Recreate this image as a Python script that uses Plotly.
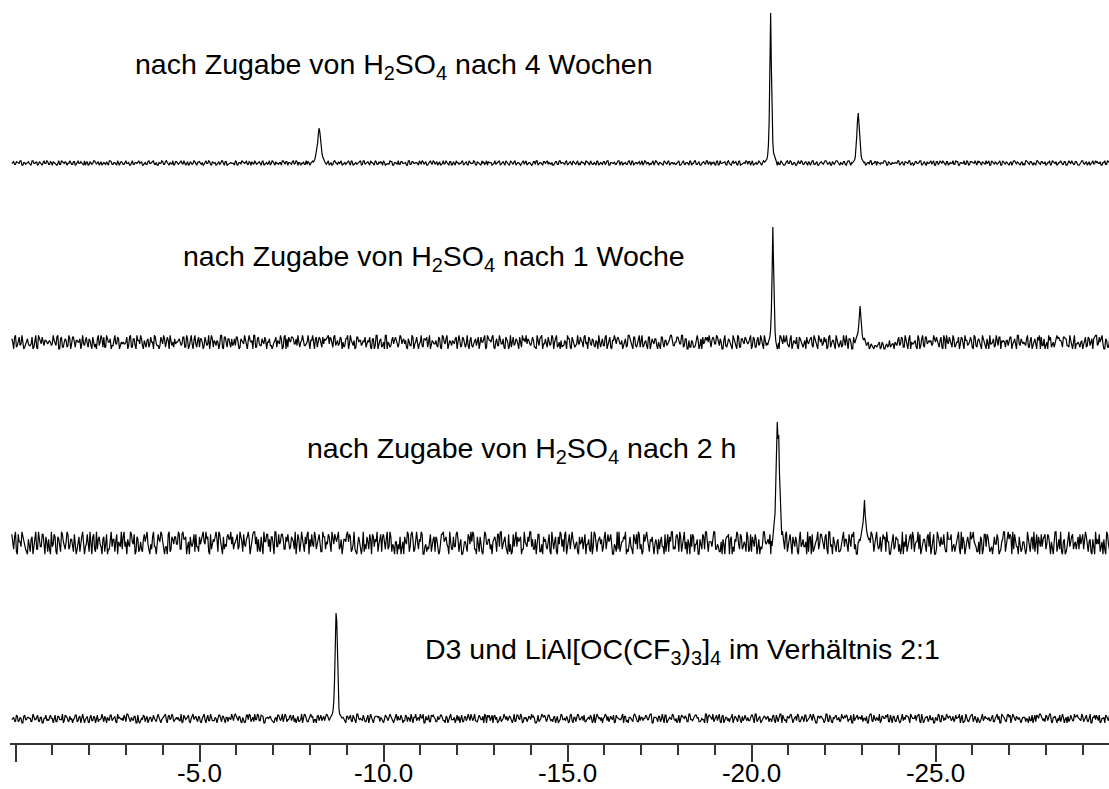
import numpy as np
import plotly.graph_objects as go

# ---------------------------------------------------------------------------
# Stacked NMR spectra (chemical shift in ppm), four measurements
# ---------------------------------------------------------------------------
PPM_START = 0.10   # first sample of every spectrum
PPM_STEP = 0.05    # spacing of each sample row; the two rows are interleaved

# Baseline noise, one digit per sample (0..9, centred on 4.5).
# Row "a" holds samples at PPM_START - k*PPM_STEP, row "b" the ones halfway between.
noise_4_wochen_a = """
4635472546 3745263547 3625443756 2453637452 2635473642 5347635245 5374263547 5243645732 5463745326 5473542637
4563254736 4253746235 4263574536 2473546253 7462435746 2537465243 7625347462 5374265347 3547263546 2735475263
4572436254 7364527364 5247362547 3652437462 6253473625 4736524376 5243574625 3746253476 2543672536 4753246375
4625374623 5476253472 5364725436 7524364725 3642735462 7354263745 5362473526 4735246375 2436274536 4275362457
3642537462 5374562374 2647352647 3546273524 6375426375 2463572647 3546253746 2534762534 5473625473 2645736245
3726457362 5437625437 2654376253 4726354726 3526473526 4753624753 6425736425 7362457364 2573642537 6425736425
"""
noise_4_wochen_b = """
5364725364 2746352746 3564273645 4736254637 5263745263 4627354726 3645273564 6253746352 4736524736 3547263546
2645374625 5364726354 4725364735 6354627354 2736452736 5463725463 3547263745 4625374652 5364725347 3746254736
6253476253 3645273645 4736524736 5263745263 3754625374 4625376425 5374625374 2637452637 4526374526 6345263745
3746253746 5264735264 4637254637 2645372645 5374652374 6253746253 3472635472 4736254736 5627345627 3546273546
6273546273 4352746352 5746352746 3625473625 4573624573 5362745362 2746357246 6354726354 4725364725 3647253647
5263745264 4736254736 3647253647 5274635274 6352746352 2746352746 4635274635 5362745362 3745263745 4625374625
"""

noise_1_woche_a = """
7193846254 3829174665 5546391827 2918365744 6473821957 8265139474 4451827396 9362745183 1847569324 5738291646
4627183957 6354918272 3785264619 5192837465 7346259181 2687435593 4916372858 7798583647 5371946286 3684527191
6259143876 2947615384 8153762945 4382957163 5719284436 3476185927 6825394716 1953748265 4638215794 7264859312
3597162448 5841736259 2739481657 6415297383 4962538174 7128463595 3584927162 5276314889 2849571634 6395182747
4718263959 3562947184 5937164285 2684739516 7451826394 4293675158 3162541423 2415132634 5384726195 4617392855
3956281794 6273518496 4829365172 7145293866 2658471935 5392847161 3741625598 6287394514 4516283779 3874162958
"""
noise_1_woche_b = """
5826391473 4172958364 6394817256 3748265193 8261547392 2957364815 5483927164 7136285943 3692814575 6548273919
2875364192 5619283747 4381759266 6927435815 3158647297 8584792663 5369185724 6847295381 2794631856 4526817394
7319526483 5864273915 3492785164 6271849356 4856372918 2638457196 5917364285 3284615979 7456293814 4839172563
6172853946 2958473615 5381726948 4647395182 7293618457 3518264793 5864937126 2391785654 6748351927 4163927585
5937284616 2684173959 6429358174 4156827395 3872946152 6359171834 2416352313 3524143241 4638295714 5291738466
4783629158 3925847163 5618273941 2947368155 6381529474 4726153898 3159842676 5873261945 2648375189 4591726384
"""

noise_2_h_a = """
8290537416 1749263805 6038174952 9263805174 3815729640 7402961853 2956384071 5187402936 6950381747 4829605738
8376946185 5918274769 7462958376 3897614958 6749385827 8275936461 4968375819 7583946726 3685729145 0947268351
6182937405 4730591862 9258043716 1604857392 7391605284 5827130946 2065839471 8413976025 3596208147 6280451793
1938762504 7504293816 4172865039 9356017284 2841593670 6027384159 3769152048 8140627935 5892310467 0736948251
7215806349 4683159072 2958047163 6301782594 8472930516 1596483720 5038271964 9274615038 3610958472 7452036189
2809574316 6143829705 4975310628 8320746159 1567983042 5094621873 3728450916 9061837254 2485716039 6830294517
"""
noise_2_h_b = """
3718596204 6052938471 2947061835 8361427590 4590812736 1827365049 7304958162 2659147308 5813092674 9286730451
3148597026 7695023864 2583714690 6941270583 1709348625 5362081947 8034926517 2471685930 6598142073 3125807694
8746291350 2057483916 5690312847 7318964052 3864025179 9203715846 4571892630 1086357294 7932648105 3519270486
8062934175 2846109357 6397580412 1579243068 9208761534 4653018792 2817495603 7460382915 3924156078 6015827349
1873640295 5409281736 8162735094 3597014628 6280947351 2736158940 9053462817 4318795062 7642031589 1598264730
5027348196 8316902547 2694157083 7135480269 4980263715 3261794058 6847015932 1503968427 8729351604 4156082793
"""

noise_d3_a = """
4627351846 5374826153 3856274418 6241583765 4718365249 2563847155 5829463712 3475162846 6158374925 4392658174
7261845393 3548271664 5873614289 2694837156 6415283977 4738562419 5286147385 3951746826 6374825194 4826193576
2518467349 7463825916 3695174288 5248637154 4187526393 6532847916 3874162557 5619384725 2746518396 6483275148
4352916784 7825463195 3168745826 5497216387 2863574916 6274381559 4531867294 3786254918 5948627163 2617483755
6385926147 4752813698 3168547926 5824936175 7439261584 2956748136 4685317925 6317589247 3542968716 5879143628
4163827595 7428695134 2795461837 5638274196 3861957424 6247318859 4583926713 2916745368 5374829164 6825173945
"""
noise_d3_b = """
5382617465 2947361584 6518274937 3754826191 5263718456 7148352964 3695247181 5827364529 2469185736 6318472595
4725918363 6183746259 3957261848 5249387165 7316845292 4862173958 2597418637 6835249174 4176382955 3528461777
6247395183 4813762569 5369148276 2758316494 6431827559 3925641788 5186273943 7342859166 4697132588 2854617394
5718362945 3246819576 6593274185 4817365293 2365847916 5729183648 3184756294 6852341977 4273918565 5946271383
3581947266 6247382915 4759163827 2836594177 5193826746 3678241958 6425719383 4937562817 2816347595 5382916744
6159283477 3745618293 5827143965 4362597185 2984735616 6513842797 3278916458 5641283976 4927351688 3156847923
"""

# size of one noise digit in intensity units, per spectrum
noise_unit = [0.9, 1.7, 2.5, 1.1]

# Peaks: sample offsets (ppm) around each centre and the intensities there
peak_offsets = [0.16, 0.14, 0.12, 0.10, 0.08, 0.06, 0.04, 0.02, 0.0,
                -0.02, -0.04, -0.06, -0.08, -0.10, -0.12, -0.14, -0.16]

peaks_4_wochen = [
    (-8.25, [1, 2, 3, 6, 10, 13, 20, 29, 35, 31, 22, 14, 9, 6, 4, 2, 1]),
    (-20.52, [1, 2, 2, 4, 8, 18, 42, 88, 150, 96, 46, 20, 10, 8, 5, 3, 1]),
    (-22.90, [0, 1, 2, 3, 6, 13, 27, 42, 50, 40, 24, 12, 7, 4, 2, 1, 0]),
]
peaks_1_woche = [
    (-20.58, [0, -2, 1, 3, 6, 14, 32, 70, 116, 76, 34, 12, 2, -4, -6, -3, 0]),
    (-22.95, [2, 0, 3, 5, 8, 10, 16, 28, 37, 27, 15, 8, 4, 3, 5, 2, 1]),
]
peaks_2_h = [
    (-20.70, [2, -3, 5, 8, 14, 30, 60, 96, 121, 104, 108, 70, 40, 18, 8, 12, 3]),
    (-23.07, [0, 4, 2, 6, 10, 14, 20, 30, 43, 28, 16, 12, 8, 6, 3, 5, 0]),
]
peaks_d3 = [
    (-8.71, [1, 2, 3, 5, 9, 18, 40, 80, 106, 98, 60, 25, 10, 5, 3, 2, 1]),
]

labels = [
    "nach Zugabe von H<sub>2</sub>SO<sub>4</sub> nach 4 Wochen",
    "nach Zugabe von H<sub>2</sub>SO<sub>4</sub> nach 1 Woche",
    "nach Zugabe von H<sub>2</sub>SO<sub>4</sub> nach 2 h",
    "D3 und LiAl[OC(CF<sub>3</sub>)<sub>3</sub>]<sub>4</sub> im Verhältnis 2:1",
]

tick_vals = [0, -5, -10, -15, -20, -25]
tick_text = ["", "-5.0", "-10.0", "-15.0", "-20.0", "-25.0"]

# ---------------------------------------------------------------------------
W, H = 1109, 789
ML, MR, MT, MB = 10, 0, 0, 46
PLOT_H = H - MT - MB

baselines = [580, 400, 200, 24]          # vertical stacking offsets
label_left = [133, 181, 305, 423]        # pixel positions of the captions
label_mid = [66, 258, 450, 651]
LABEL_SIZE = 28.5

FONT = "Liberation Sans, Arial, Helvetica, sans-serif"


def digits_of(text):
    return np.array([int(c) for c in text if c.isdigit()], dtype=float)


def build_spectrum(row_a, row_b, unit, peaks):
    da, db = digits_of(row_a), digits_of(row_b)
    xa = PPM_START - PPM_STEP * np.arange(len(da))
    xb = PPM_START - PPM_STEP / 2 - PPM_STEP * np.arange(len(db))
    x = np.concatenate([xa, xb])
    y = (np.concatenate([da, db]) - 4.5) * unit
    keep = np.ones(len(x), dtype=bool)
    for centre, _ in peaks:
        keep &= np.abs(x - centre) > 0.17
    xs = list(x[keep])
    ys = list(y[keep])
    for centre, vals in peaks:
        for off, v in zip(peak_offsets, vals):
            xs.append(centre + off)
            ys.append(v)
    order = np.argsort(-np.array(xs))
    return np.array(xs)[order], np.array(ys)[order]


spectra = [
    (noise_4_wochen_a, noise_4_wochen_b, peaks_4_wochen),
    (noise_1_woche_a, noise_1_woche_b, peaks_1_woche),
    (noise_2_h_a, noise_2_h_b, peaks_2_h),
    (noise_d3_a, noise_d3_b, peaks_d3),
]

fig = go.Figure()
for (row_a, row_b, peaks), unit, base in zip(spectra, noise_unit, baselines):
    xs, ys = build_spectrum(row_a, row_b, unit, peaks)
    fig.add_trace(go.Scatter(
        x=xs, y=ys + base, mode="lines",
        line=dict(color="black", width=1.2),
        hoverinfo="skip", showlegend=False,
    ))

plot_w = W - ML - MR
for text, px, py in zip(labels, label_left, label_mid):
    fig.add_annotation(
        text=text, xref="paper", yref="paper",
        x=(px - ML) / plot_w, y=(PLOT_H - (py - MT)) / PLOT_H,
        xanchor="left", yanchor="middle", showarrow=False,
        font=dict(family=FONT, size=LABEL_SIZE, color="black"),
    )

px_per_ppm = 36.8
x_left = (15.5 - ML) / px_per_ppm
x_right = x_left - plot_w / px_per_ppm

fig.update_layout(
    width=W, height=H,
    margin=dict(l=ML, r=MR, t=MT, b=MB, pad=0),
    paper_bgcolor="white", plot_bgcolor="white",
    showlegend=False,
    xaxis=dict(
        range=[x_left, x_right],
        showgrid=False, zeroline=False,
        showline=True, linecolor="#333333", linewidth=1.5,
        ticks="outside", ticklen=17, tickwidth=1.5, tickcolor="#333333",
        tickvals=tick_vals, ticktext=tick_text,
        tickfont=dict(family=FONT, size=26, color="black"),
        ticklabelstandoff=-11,
        minor=dict(dtick=1, tick0=0, ticks="outside", ticklen=10,
                   tickwidth=1.5, tickcolor="#333333", showgrid=False),
        automargin=False,
    ),
    yaxis=dict(range=[0, PLOT_H], visible=False, fixedrange=True),
)

fig.write_html("out.html")
